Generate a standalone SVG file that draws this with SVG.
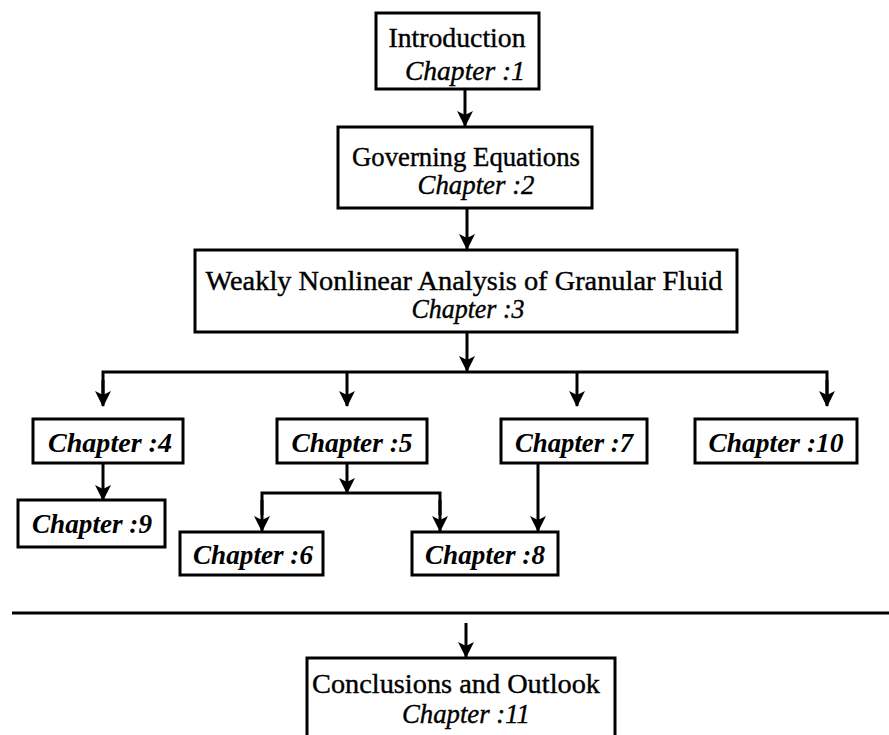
<svg xmlns="http://www.w3.org/2000/svg" width="889" height="735" viewBox="0 0 889 735">
<style>
.box{fill:#fff;stroke:#000;stroke-width:3}
.t{font-family:"Liberation Serif","Times New Roman",serif;font-size:28px;fill:#000;text-anchor:middle;stroke:#000;stroke-width:0.4}
.c{font-style:italic}
.cb{font-style:italic;font-weight:bold;stroke-width:0}
.ln{fill:none;stroke:#000;stroke-width:3}
</style>
<defs>
<marker id="a" markerUnits="userSpaceOnUse" markerWidth="16" markerHeight="16" refX="15" refY="8" orient="auto" viewBox="0 0 16 16">
<path d="M0,0 L16,8 L0,16 L4,8 Z" fill="#000"/>
</marker>
</defs>
<rect width="889" height="735" fill="#fff"/>
<g id="connectors">
<line class="ln" x1="465" y1="89" x2="465" y2="126" marker-end="url(#a)"/>
<line class="ln" x1="467" y1="208" x2="467" y2="249" marker-end="url(#a)"/>
<line class="ln" x1="467" y1="332" x2="467" y2="371" marker-end="url(#a)"/>
<polyline class="ln" points="103,395 103,372 827,372 827,395" />
<line class="ln" x1="103" y1="380" x2="103" y2="406" marker-end="url(#a)"/>
<line class="ln" x1="347" y1="372" x2="347" y2="406" marker-end="url(#a)"/>
<line class="ln" x1="577" y1="372" x2="577" y2="406" marker-end="url(#a)"/>
<line class="ln" x1="827" y1="380" x2="827" y2="406" marker-end="url(#a)"/>
<line class="ln" x1="103" y1="463" x2="103" y2="500" marker-end="url(#a)"/>
<line class="ln" x1="347" y1="463" x2="347" y2="493" marker-end="url(#a)"/>
<polyline class="ln" points="262,515 262,493 440,493 440,515"/>
<line class="ln" x1="262" y1="500" x2="262" y2="531" marker-end="url(#a)"/>
<line class="ln" x1="440" y1="500" x2="440" y2="531" marker-end="url(#a)"/>
<line class="ln" x1="538" y1="463" x2="538" y2="531" marker-end="url(#a)"/>
<line class="ln" x1="12" y1="613" x2="889" y2="613"/>
<line class="ln" x1="466" y1="623" x2="466" y2="657" marker-end="url(#a)"/>
</g>
<g id="n1"><rect class="box" x="376" y="13" width="163" height="76"/>
<text class="t" x="457" y="47" textLength="137" lengthAdjust="spacingAndGlyphs">Introduction</text>
<text class="t c" x="465" y="80" textLength="120" lengthAdjust="spacingAndGlyphs">Chapter :1</text></g>
<g id="n2"><rect class="box" x="338" y="127" width="254" height="81"/>
<text class="t" x="466" y="166" textLength="228" lengthAdjust="spacingAndGlyphs">Governing Equations</text>
<text class="t c" x="476" y="194" textLength="117" lengthAdjust="spacingAndGlyphs">Chapter :2</text></g>
<g id="n3"><rect class="box" x="195" y="250" width="542" height="82"/>
<text class="t" x="464" y="290" textLength="517" lengthAdjust="spacingAndGlyphs">Weakly Nonlinear Analysis of Granular Fluid</text>
<text class="t c" x="468" y="318" textLength="113" lengthAdjust="spacingAndGlyphs">Chapter :3</text></g>
<g id="n4"><rect class="box" x="33" y="419" width="150" height="44"/>
<text class="t cb" x="110" y="452" textLength="124" lengthAdjust="spacingAndGlyphs">Chapter :4</text></g>
<g id="n5"><rect class="box" x="277" y="419" width="150" height="44"/>
<text class="t cb" x="352" y="452" textLength="121" lengthAdjust="spacingAndGlyphs">Chapter :5</text></g>
<g id="n7"><rect class="box" x="501" y="419" width="146" height="44"/>
<text class="t cb" x="574" y="452" textLength="118" lengthAdjust="spacingAndGlyphs">Chapter :7</text></g>
<g id="n10"><rect class="box" x="695" y="419" width="162" height="44"/>
<text class="t cb" x="776" y="452" textLength="135" lengthAdjust="spacingAndGlyphs">Chapter :10</text></g>
<g id="n9"><rect class="box" x="18" y="500" width="147" height="47"/>
<text class="t cb" x="92" y="533" textLength="120" lengthAdjust="spacingAndGlyphs">Chapter :9</text></g>
<g id="n6"><rect class="box" x="180" y="532" width="143" height="43"/>
<text class="t cb" x="253" y="564" textLength="120" lengthAdjust="spacingAndGlyphs">Chapter :6</text></g>
<g id="n8"><rect class="box" x="412" y="532" width="146" height="43"/>
<text class="t cb" x="485" y="564" textLength="120" lengthAdjust="spacingAndGlyphs">Chapter :8</text></g>
<g id="n11"><rect class="box" x="307" y="658" width="308" height="90"/>
<text class="t" x="456" y="693" textLength="288" lengthAdjust="spacingAndGlyphs">Conclusions and Outlook</text>
<text class="t c" x="466" y="723" textLength="128" lengthAdjust="spacingAndGlyphs">Chapter :11</text></g>
</svg>
